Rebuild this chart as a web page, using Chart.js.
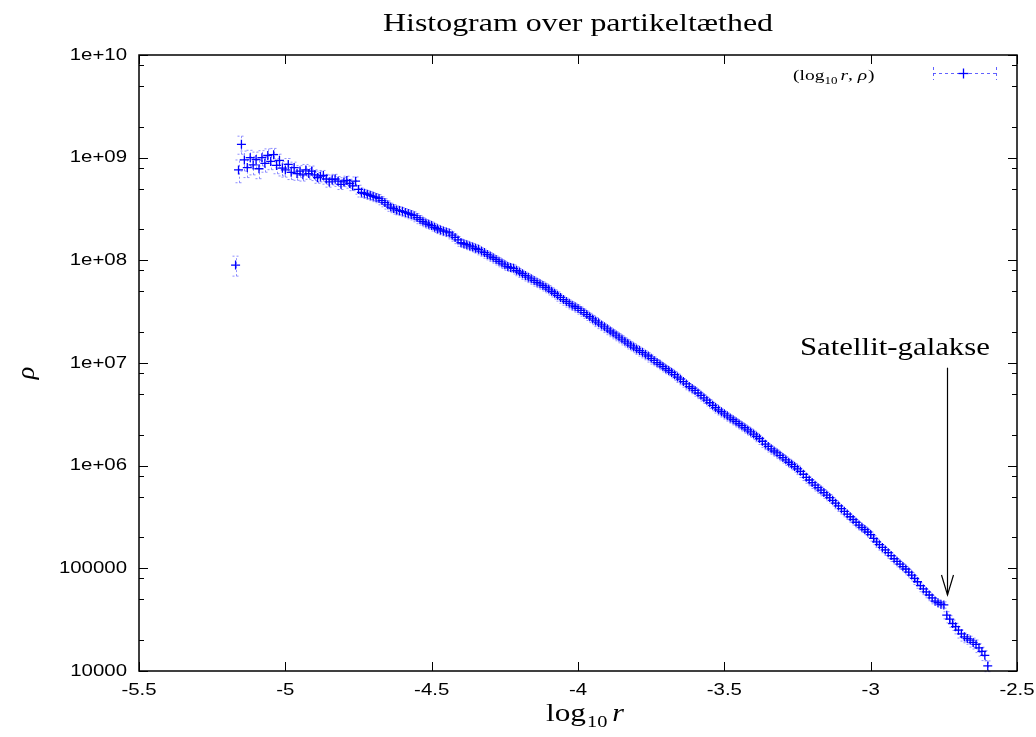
<!DOCTYPE html>
<html>
<head>
<meta charset="utf-8">
<script src="https://cdn.jsdelivr.net/npm/chart.js@4.4.0/dist/chart.umd.min.js"></script>
<style>
  html, body { margin: 0; padding: 0; background: #fff; }
</style>
</head>
<body>
<canvas id="chart" width="1036" height="737"></canvas>
<script>
// log10 r (x) for each histogram bin
const logR = [
  -5.17, -5.16, -5.15, -5.14, -5.13, -5.12, -5.11, -5.10, -5.09, -5.08,
  -5.07, -5.06, -5.05, -5.04, -5.03, -5.02, -5.01, -5.00, -4.99, -4.98,
  -4.97, -4.96, -4.95, -4.94, -4.93, -4.92, -4.91, -4.90, -4.89, -4.88,
  -4.87, -4.86, -4.85, -4.84, -4.83, -4.82, -4.81, -4.80, -4.79, -4.78,
  -4.77, -4.76, -4.75, -4.74,
  -4.73, -4.72, -4.71, -4.70, -4.69, -4.68, -4.67, -4.66, -4.65, -4.64,
  -4.63, -4.62, -4.61, -4.60, -4.59, -4.58, -4.57, -4.56, -4.55, -4.54,
  -4.53, -4.52, -4.51, -4.50, -4.49, -4.48, -4.47, -4.46, -4.45, -4.44,
  -4.43, -4.42, -4.41, -4.40, -4.39, -4.38, -4.37, -4.36, -4.35, -4.34,
  -4.33, -4.32, -4.31, -4.30, -4.29, -4.28, -4.27, -4.26, -4.25, -4.24,
  -4.23, -4.22, -4.21, -4.20, -4.19, -4.18, -4.17, -4.16, -4.15, -4.14,
  -4.13, -4.12, -4.11, -4.10, -4.09, -4.08, -4.07, -4.06, -4.05, -4.04,
  -4.03, -4.02, -4.01, -4.00, -3.99, -3.98, -3.97, -3.96, -3.95, -3.94,
  -3.93, -3.92, -3.91, -3.90, -3.89, -3.88, -3.87, -3.86, -3.85, -3.84,
  -3.83, -3.82, -3.81, -3.80, -3.79, -3.78, -3.77, -3.76, -3.75, -3.74,
  -3.73, -3.72, -3.71, -3.70, -3.69, -3.68, -3.67, -3.66, -3.65, -3.64,
  -3.63, -3.62, -3.61, -3.60, -3.59, -3.58, -3.57, -3.56, -3.55, -3.54,
  -3.53, -3.52, -3.51, -3.50, -3.49, -3.48, -3.47, -3.46, -3.45, -3.44,
  -3.43, -3.42, -3.41, -3.40, -3.39, -3.38, -3.37, -3.36, -3.35, -3.34,
  -3.33, -3.32, -3.31, -3.30, -3.29, -3.28, -3.27, -3.26, -3.25, -3.24,
  -3.23, -3.22, -3.21, -3.20, -3.19, -3.18, -3.17, -3.16, -3.15, -3.14,
  -3.13, -3.12, -3.11, -3.10, -3.09, -3.08, -3.07, -3.06, -3.05, -3.04,
  -3.03, -3.02, -3.01, -3.00, -2.99, -2.98, -2.97, -2.96, -2.95, -2.94,
  -2.93, -2.92, -2.91, -2.90, -2.89, -2.88, -2.87, -2.86, -2.85, -2.84,
  -2.83, -2.82, -2.81, -2.80, -2.79, -2.78, -2.77, -2.76, -2.75, -2.74,
  -2.73, -2.72, -2.71, -2.70, -2.69, -2.68, -2.67, -2.66, -2.65, -2.64,
  -2.63, -2.62, -2.61, -2.60
];

// particle density rho
const rho = [
  9.0e7, 7.6e8, 1.35e9, 9.5e8, 8.0e8, 1.0e9, 8.5e8, 9.6e8, 7.8e8, 1.0e9,
  8.8e8, 1.05e9, 9.2e8, 1.07e9, 8.4e8, 9.4e8, 7.9e8, 7.6e8, 8.6e8, 7.2e8,
  8.0e8, 7.0e8, 7.4e8, 6.8e8, 7.6e8, 7.0e8, 7.4e8, 6.8e8, 6.4e8, 6.6e8,
  6.7e8, 6.2e8, 5.8e8, 6.1e8, 6.2e8, 5.9e8, 5.5e8, 5.8e8, 6.0e8, 5.6e8,
  5.3e8, 5.9e8, 4.9e8, 4.6e8,
  4.5e8, 4.4e8, 4.3e8, 4.2e8, 4.1e8, 4.0e8, 3.82e8, 3.65e8, 3.47e8, 3.3e8,
  3.2e8, 3.1e8, 3.05e8, 3.0e8, 2.93e8, 2.86e8, 2.79e8, 2.72e8, 2.61e8, 2.5e8,
  2.4e8, 2.31e8, 2.24e8, 2.18e8, 2.1e8, 2.03e8, 1.98e8, 1.93e8, 1.89e8, 1.85e8,
  1.76e8, 1.67e8, 1.58e8, 1.49e8, 1.45e8, 1.42e8, 1.38e8, 1.35e8, 1.31e8, 1.28e8,
  1.23e8, 1.19e8, 1.14e8, 1.1e8, 1.06e8, 1.02e8, 9.8e7, 9.4e7, 9.05e7, 8.7e7,
  8.5e7, 8.35e7, 8.0e7, 7.7e7, 7.4e7, 7.1e7, 6.85e7, 6.6e7, 6.35e7, 6.1e7,
  5.9e7, 5.7e7, 5.47e7, 5.25e7, 5.0e7, 4.78e7, 4.56e7, 4.35e7, 4.15e7, 3.97e7,
  3.81e7, 3.66e7, 3.53e7, 3.4e7, 3.25e7, 3.1e7, 2.96e7, 2.82e7, 2.69e7, 2.57e7,
  2.46e7, 2.35e7, 2.25e7, 2.15e7, 2.05e7, 1.96e7, 1.87e7, 1.79e7, 1.71e7, 1.63e7,
  1.56e7, 1.49e7, 1.43e7, 1.37e7, 1.32e7, 1.27e7, 1.22e7, 1.17e7, 1.11e7, 1.06e7,
  1.01e7, 9.7e6, 9.25e6, 8.8e6, 8.45e6, 8.1e6, 7.7e6, 7.3e6, 6.95e6, 6.6e6,
  6.25e6, 5.9e6, 5.65e6, 5.4e6, 5.1e6, 4.84e6, 4.58e6, 4.34e6, 4.1e6, 3.87e6,
  3.68e6, 3.5e6, 3.35e6, 3.2e6, 3.06e6, 2.92e6, 2.8e6, 2.68e6, 2.56e6, 2.45e6,
  2.34e6, 2.23e6, 2.13e6, 2.03e6, 1.93e6, 1.84e6, 1.73e6, 1.62e6, 1.54e6, 1.46e6,
  1.39e6, 1.33e6, 1.26e6, 1.2e6, 1.14e6, 1.08e6, 1.03e6, 9.8e5, 9.3e5, 8.8e5,
  8.25e5, 7.7e5, 7.25e5, 6.85e5, 6.45e5, 6.1e5, 5.78e5, 5.47e5, 5.17e5, 4.89e5,
  4.6e5, 4.31e5, 4.05e5, 3.81e5, 3.59e5, 3.38e5, 3.18e5, 2.99e5, 2.81e5, 2.64e5,
  2.51e5, 2.39e5, 2.26e5, 2.13e5, 1.96e5, 1.81e5, 1.7e5, 1.6e5, 1.51e5, 1.42e5,
  1.33e5, 1.24e5, 1.17e5, 1.1e5, 1.04e5, 9.85e4, 9.2e4, 8.6e4, 8.0e4, 7.4e4,
  6.8e4, 6.3e4, 5.9e4, 5.5e4, 5.15e4, 4.8e4, 4.63e4, 4.47e4, 4.4e4, 3.5e4,
  3.2e4, 2.9e4, 2.7e4, 2.5e4, 2.3e4, 2.15e4, 2.07e4, 2.0e4, 1.9e4, 1.82e4,
  1.68e4, 1.55e4, 1.42e4, 1.12e4
];

// relative error bar size for each bin
const relErr = [
  0.22, 0.25, 0.20, 0.22, 0.20, 0.18, 0.20, 0.18, 0.20, 0.17,
  0.18, 0.16, 0.17, 0.15, 0.17, 0.15, 0.16, 0.15, 0.14, 0.15,
  0.13, 0.14, 0.13, 0.13, 0.13, 0.12, 0.12, 0.12, 0.12, 0.12,
  0.12, 0.11, 0.11, 0.11, 0.11, 0.11, 0.11, 0.10, 0.10, 0.10,
  0.10, 0.10, 0.10, 0.10,
  0.09, 0.09, 0.09, 0.09, 0.09, 0.09, 0.09, 0.09, 0.09, 0.09,
  0.09, 0.09, 0.09, 0.09, 0.09, 0.09, 0.09, 0.09, 0.09, 0.09,
  0.08, 0.08, 0.08, 0.08, 0.08, 0.08, 0.08, 0.08, 0.08, 0.08,
  0.08, 0.08, 0.08, 0.08, 0.08, 0.08, 0.08, 0.08, 0.08, 0.08,
  0.08, 0.08, 0.08, 0.08, 0.08, 0.08, 0.08, 0.08, 0.08, 0.08,
  0.08, 0.08, 0.08, 0.08, 0.08, 0.08, 0.08, 0.08, 0.08, 0.08,
  0.08, 0.08, 0.08, 0.08, 0.08, 0.08, 0.08, 0.08, 0.08, 0.08,
  0.08, 0.08, 0.08, 0.08, 0.08, 0.08, 0.08, 0.08, 0.08, 0.08,
  0.08, 0.08, 0.08, 0.08, 0.08, 0.08, 0.08, 0.08, 0.08, 0.08,
  0.08, 0.08, 0.08, 0.08, 0.08, 0.08, 0.08, 0.08, 0.08, 0.08,
  0.07, 0.07, 0.07, 0.07, 0.07, 0.07, 0.07, 0.07, 0.07, 0.07,
  0.07, 0.07, 0.07, 0.07, 0.07, 0.07, 0.07, 0.07, 0.07, 0.07,
  0.07, 0.07, 0.07, 0.07, 0.07, 0.07, 0.07, 0.07, 0.07, 0.07,
  0.07, 0.07, 0.07, 0.07, 0.07, 0.07, 0.07, 0.07, 0.07, 0.07,
  0.07, 0.07, 0.07, 0.07, 0.07, 0.07, 0.07, 0.07, 0.07, 0.07,
  0.07, 0.07, 0.07, 0.07, 0.07, 0.07, 0.07, 0.07, 0.07, 0.07,
  0.06, 0.06, 0.06, 0.06, 0.06, 0.06, 0.06, 0.06, 0.06, 0.06,
  0.06, 0.06, 0.06, 0.06, 0.06, 0.06, 0.06, 0.06, 0.06, 0.06,
  0.06, 0.06, 0.06, 0.06, 0.06, 0.06, 0.06, 0.06, 0.06, 0.06,
  0.06, 0.06, 0.06, 0.06, 0.06, 0.06, 0.06, 0.06, 0.07, 0.08,
  0.08, 0.08, 0.08, 0.08, 0.09, 0.09, 0.09, 0.09, 0.10, 0.10,
  0.10, 0.10, 0.11, 0.12
];

const xTicks = [-5.5, -5, -4.5, -4, -3.5, -3, -2.5];
const xTickLabels = ['-5.5', '-5', '-4.5', '-4', '-3.5', '-3', '-2.5'];
const yTicks = [1e10, 1e9, 1e8, 1e7, 1e6, 1e5, 1e4];
const yTickLabels = ['1e+10', '1e+09', '1e+08', '1e+07', '1e+06', '100000', '10000'];
const yMinorFactors = [2, 5, 8];

const chartTitle = 'Histogram over partikeltæthed';
const noteText = 'Satellit-galakse';
const noteTextAt = { x: -2.917, y: 1.2e7 };
const noteArrowFrom = { x: -2.739, y: 9.0e6 };
const noteArrowTo = { x: -2.739, y: 5.5e4 };

const serif = '"Liberation Serif", "DejaVu Serif", serif';
const sans = '"Liberation Sans", Arial, sans-serif';

// draw text squeezed/stretched horizontally by sx
function stretchText(ctx, text, px, py, align, sx) {
  const w = ctx.measureText(text).width * sx;
  let x0 = px;
  if (align === 'right') x0 = px - w;
  else if (align === 'center') x0 = px - w / 2;
  ctx.save();
  ctx.translate(x0, py);
  ctx.scale(sx, 1);
  ctx.textAlign = 'left';
  ctx.fillText(text, 0, 0);
  ctx.restore();
  return w;
}

function line(ctx, x1, y1, x2, y2) {
  ctx.beginPath();
  ctx.moveTo(x1, y1);
  ctx.lineTo(x2, y2);
  ctx.stroke();
}

const errorBars = {
  id: 'errorBars',
  beforeDatasetsDraw(chart) {
    const { ctx, scales: { x, y } } = chart;
    ctx.save();
    ctx.strokeStyle = 'rgba(70, 70, 255, 0.6)';
    ctx.lineWidth = 1;
    ctx.setLineDash([2, 2]);
    logR.forEach((v, i) => {
      const px = Math.round(x.getPixelForValue(v)) + 0.5;
      const lo = y.getPixelForValue(rho[i] * (1 - relErr[i]));
      const hi = y.getPixelForValue(rho[i] * (1 + relErr[i]));
      line(ctx, px, lo, px, hi);
      line(ctx, px - 4, lo, px + 4, lo);
      line(ctx, px - 4, hi, px + 4, hi);
    });
    ctx.restore();
  }
};

const frame = {
  id: 'frame',
  afterDraw(chart) {
    const { ctx, chartArea: { left, right, top, bottom }, scales: { x, y } } = chart;
    ctx.save();
    ctx.strokeStyle = '#000';
    ctx.fillStyle = '#000';
    ctx.lineWidth = 1;

    // ticks on all sides, pointing inward
    xTicks.forEach(v => {
      const px = Math.round(x.getPixelForValue(v)) + 0.5;
      line(ctx, px, bottom, px, bottom - 9);
      line(ctx, px, top, px, top + 9);
    });
    yTicks.forEach(v => {
      const py = Math.round(y.getPixelForValue(v)) + 0.5;
      line(ctx, left, py, left + 9, py);
      line(ctx, right, py, right - 9, py);
    });
    yTicks.slice(1).forEach(d => {
      yMinorFactors.forEach(f => {
        const py = Math.round(y.getPixelForValue(d * f)) + 0.5;
        line(ctx, left, py, left + 5, py);
        line(ctx, right, py, right - 5, py);
      });
    });

    ctx.lineWidth = 1.5;
    ctx.strokeRect(left, top, right - left, bottom - top);

    // tick labels
    ctx.font = '17px ' + sans;
    ctx.textBaseline = 'middle';
    yTicks.forEach((v, i) => {
      stretchText(ctx, yTickLabels[i], left - 12, y.getPixelForValue(v), 'right', 1.2);
    });
    xTicks.forEach((v, i) => {
      stretchText(ctx, xTickLabels[i], x.getPixelForValue(v), bottom + 19, 'center', 1.2);
    });

    // title
    ctx.textBaseline = 'alphabetic';
    ctx.font = '25px ' + serif;
    const tw = ctx.measureText(chartTitle).width;
    stretchText(ctx, chartTitle, (left + right) / 2, 31, 'center', 390 / tw);

    // x axis title: log_10 r
    const cx = (left + right) / 2 + 7;
    ctx.font = '25px ' + serif;
    const wLog = ctx.measureText('log').width * 1.25;
    ctx.font = '17px ' + serif;
    const wSub = ctx.measureText('10').width * 1.2;
    ctx.font = 'italic 25px ' + serif;
    const wR = ctx.measureText('r').width * 1.2;
    let xs = cx - (wLog + wSub + 6 + wR) / 2;
    ctx.font = '25px ' + serif;
    stretchText(ctx, 'log', xs, 721, 'left', 1.25);
    xs += wLog + 1;
    ctx.font = '17px ' + serif;
    stretchText(ctx, '10', xs, 727, 'left', 1.2);
    xs += wSub + 5;
    ctx.font = 'italic 25px ' + serif;
    stretchText(ctx, 'r', xs, 721, 'left', 1.2);

    // y axis title: rho
    ctx.save();
    ctx.translate(34, (top + bottom) / 2 + 10);
    ctx.rotate(-Math.PI / 2);
    ctx.font = 'italic 26px ' + serif;
    ctx.textAlign = 'center';
    ctx.fillText('ρ', 0, 0);
    ctx.restore();

    // legend
    ctx.font = '15px ' + serif;
    let lx = 793;
    lx += stretchText(ctx, '(log', lx, 80, 'left', 1.3);
    ctx.font = '10px ' + serif;
    lx += stretchText(ctx, '10', lx, 84, 'left', 1.3) + 3;
    ctx.font = 'italic 15px ' + serif;
    lx += stretchText(ctx, 'r', lx, 80, 'left', 1.3);
    ctx.font = '15px ' + serif;
    lx += stretchText(ctx, ', ', lx, 80, 'left', 1.3);
    ctx.font = 'italic 15px ' + serif;
    lx += stretchText(ctx, 'ρ', lx, 80, 'left', 1.3);
    ctx.font = '15px ' + serif;
    stretchText(ctx, ')', lx + 1, 80, 'left', 1.3);

    ctx.strokeStyle = 'rgba(70, 70, 255, 0.85)';
    ctx.lineWidth = 1;
    ctx.setLineDash([3, 3]);
    line(ctx, 933, 73.5, 996, 73.5);
    line(ctx, 933.5, 67, 933.5, 80);
    line(ctx, 996.5, 67, 996.5, 80);
    ctx.setLineDash([]);
    ctx.strokeStyle = '#0000ff';
    ctx.lineWidth = 1.3;
    line(ctx, 958.5, 73.5, 968.5, 73.5);
    line(ctx, 963.5, 68.5, 963.5, 78.5);

    // annotation
    ctx.fillStyle = '#000';
    ctx.font = '25px ' + serif;
    const nw = ctx.measureText(noteText).width;
    stretchText(ctx, noteText, x.getPixelForValue(noteTextAt.x), y.getPixelForValue(noteTextAt.y), 'center', 190 / nw);
    const ax = Math.round(x.getPixelForValue(noteArrowFrom.x)) + 0.5;
    const ay1 = y.getPixelForValue(noteArrowFrom.y);
    const ay2 = y.getPixelForValue(noteArrowTo.y);
    ctx.strokeStyle = '#000';
    ctx.lineWidth = 1.2;
    line(ctx, ax, ay1, ax, ay2);
    ctx.beginPath();
    ctx.moveTo(ax - 6, ay2 - 20);
    ctx.lineTo(ax, ay2);
    ctx.lineTo(ax + 6, ay2 - 20);
    ctx.stroke();

    ctx.restore();
  }
};

new Chart(document.getElementById('chart'), {
  type: 'scatter',
  data: {
    datasets: [{
      label: '(log10 r, ρ)',
      data: logR.map((v, i) => ({ x: v, y: rho[i] })),
      pointStyle: 'cross',
      pointRadius: 4.5,
      pointBorderColor: '#0000ff',
      pointBorderWidth: 1.3,
      showLine: false
    }]
  },
  options: {
    responsive: false,
    animation: false,
    devicePixelRatio: 1,
    events: [],
    layout: { padding: { left: 139, top: 55, right: 19, bottom: 66 } },
    plugins: { legend: { display: false }, tooltip: { enabled: false } },
    scales: {
      x: { type: 'linear', min: -5.5, max: -2.5, display: false },
      y: { type: 'logarithmic', min: 1e4, max: 1e10, display: false }
    }
  },
  plugins: [errorBars, frame]
});
</script>
</body>
</html>
